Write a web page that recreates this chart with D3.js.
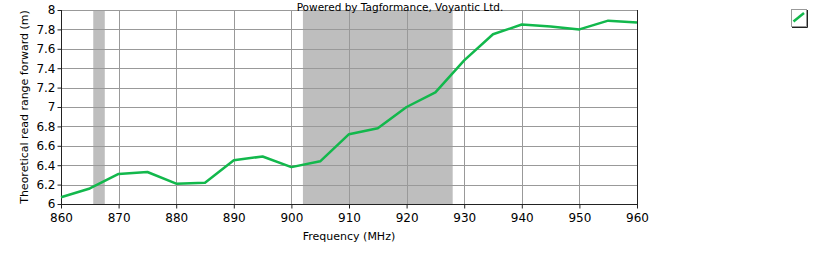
<!DOCTYPE html>
<html>
<head>
<meta charset="utf-8">
<script src="https://cdn.jsdelivr.net/npm/d3@7"></script>
<style>
  body { margin: 0; background: #fff; }
  text { font-family: "DejaVu Sans", sans-serif; }
</style>
</head>
<body>
<div class="container"></div>
<script>
// frequency sweep
var freqs = [860, 865, 870, 875, 880, 885, 890, 895, 900, 905, 910,
             915, 920, 925, 930, 935, 940, 945, 950, 955, 960];
var range = [6.07, 6.16, 6.31, 6.33, 6.21, 6.22, 6.45, 6.49, 6.38, 6.44, 6.72,
             6.78, 7.00, 7.15, 7.48, 7.75, 7.85, 7.83, 7.80, 7.89, 7.87];
var bands = [[865.6, 867.6], [902, 928]];
var xTicks = [860, 870, 880, 890, 900, 910, 920, 930, 940, 950, 960];
var yTicks = [6, 6.2, 6.4, 6.6, 6.8, 7, 7.2, 7.4, 7.6, 7.8, 8];

var W = 821, H = 256;
var m = { left: 61, right: 637, top: 10, bottom: 204 };

var svg = d3.select('.container').append('svg')
            .attr('width', W)
            .attr('height', H);

var x = d3.scaleLinear().domain([860, 960]).range([m.left, m.right]);
var y = d3.scaleLinear().domain([6, 8]).range([m.bottom, m.top]);

// shaded bands
svg.selectAll('rect.band')
   .data(bands)
   .enter()
   .append('rect')
   .attr('class', 'band')
   .attr('x', function(d){ return x(d[0]); })
   .attr('y', m.top)
   .attr('width', function(d){ return x(d[1]) - x(d[0]); })
   .attr('height', m.bottom - m.top)
   .attr('fill', '#bebebe');

// grid
svg.append('g')
   .selectAll('line')
   .data(xTicks.slice(1, -1))
   .enter()
   .append('line')
   .attr('x1', function(d){ return Math.round(x(d)) + 0.5; })
   .attr('x2', function(d){ return Math.round(x(d)) + 0.5; })
   .attr('y1', m.top).attr('y2', m.bottom)
   .attr('stroke', '#999').attr('stroke-width', 1);

svg.append('g')
   .selectAll('line')
   .data(yTicks.slice(1))
   .enter()
   .append('line')
   .attr('x1', m.left).attr('x2', m.right)
   .attr('y1', function(d){ return Math.round(y(d)) + 0.5; })
   .attr('y2', function(d){ return Math.round(y(d)) + 0.5; })
   .attr('stroke', '#999').attr('stroke-width', 1);

// axes
var xAxis = d3.axisBottom(x).tickValues(xTicks).tickSize(4).tickPadding(5)
              .tickFormat(d3.format('d'));
var yAxis = d3.axisLeft(y).tickValues(yTicks).tickSize(4).tickPadding(2)
              .tickFormat(function(d){ return d3.format('~g')(d); });

var gx = svg.append('g')
   .attr('transform', 'translate(0,' + (m.bottom + 0.5) + ')')
   .call(xAxis);
var gy = svg.append('g')
   .attr('transform', 'translate(' + (m.left + 0.5) + ',0)')
   .call(yAxis);

[gx, gy].forEach(function(g){
  g.select('.domain').attr('stroke', '#222');
  g.selectAll('.tick line').attr('stroke', '#222');
  g.selectAll('.tick text').attr('fill', '#000')
   .style('font-size', '12px');
});
gx.select('.domain').attr('d', 'M' + m.left + ',0H' + m.right);
gy.select('.domain').attr('d', 'M0,' + m.top + 'V' + m.bottom);

// right border
svg.append('line')
   .attr('x1', m.right + 0.5).attr('x2', m.right + 0.5)
   .attr('y1', m.top).attr('y2', m.bottom + 1)
   .attr('stroke', '#222');

// the series
var line = d3.line()
             .x(function(d, i){ return x(freqs[i]); })
             .y(function(d){ return y(d); });

svg.append('path')
   .datum(range)
   .attr('d', line)
   .attr('fill', 'none')
   .attr('stroke', '#12b84c')
   .attr('stroke-width', 2.5)
   .attr('stroke-linejoin', 'round');

// texts
svg.append('text')
   .attr('x', 400).attr('y', 11)
   .attr('text-anchor', 'middle')
   .style('font-size', '10.5px')
   .text('Powered by Tagformance, Voyantic Ltd.');

svg.append('text')
   .attr('x', (m.left + m.right) / 2).attr('y', 240)
   .attr('text-anchor', 'middle')
   .style('font-size', '11px')
   .text('Frequency (MHz)');

svg.append('text')
   .attr('transform', 'translate(28,' + ((m.top + m.bottom) / 2) + ') rotate(-90)')
   .attr('text-anchor', 'middle')
   .style('font-size', '11px')
   .text('Theoretical read range forward (m)');

// legend box
var lg = svg.append('g').attr('transform', 'translate(791,9)');
lg.append('rect').attr('x', 0.5).attr('y', 0.5).attr('width', 15).attr('height', 17)
  .attr('fill', '#fff').attr('stroke', '#999');
lg.append('path').attr('d', 'M1,18.5H16.5V1').attr('fill', 'none').attr('stroke', '#222');
lg.append('line').attr('x1', 2.5).attr('y1', 12.5).attr('x2', 13).attr('y2', 4)
  .attr('stroke', '#12b84c').attr('stroke-width', 2.5);
</script>
</body>
</html>
